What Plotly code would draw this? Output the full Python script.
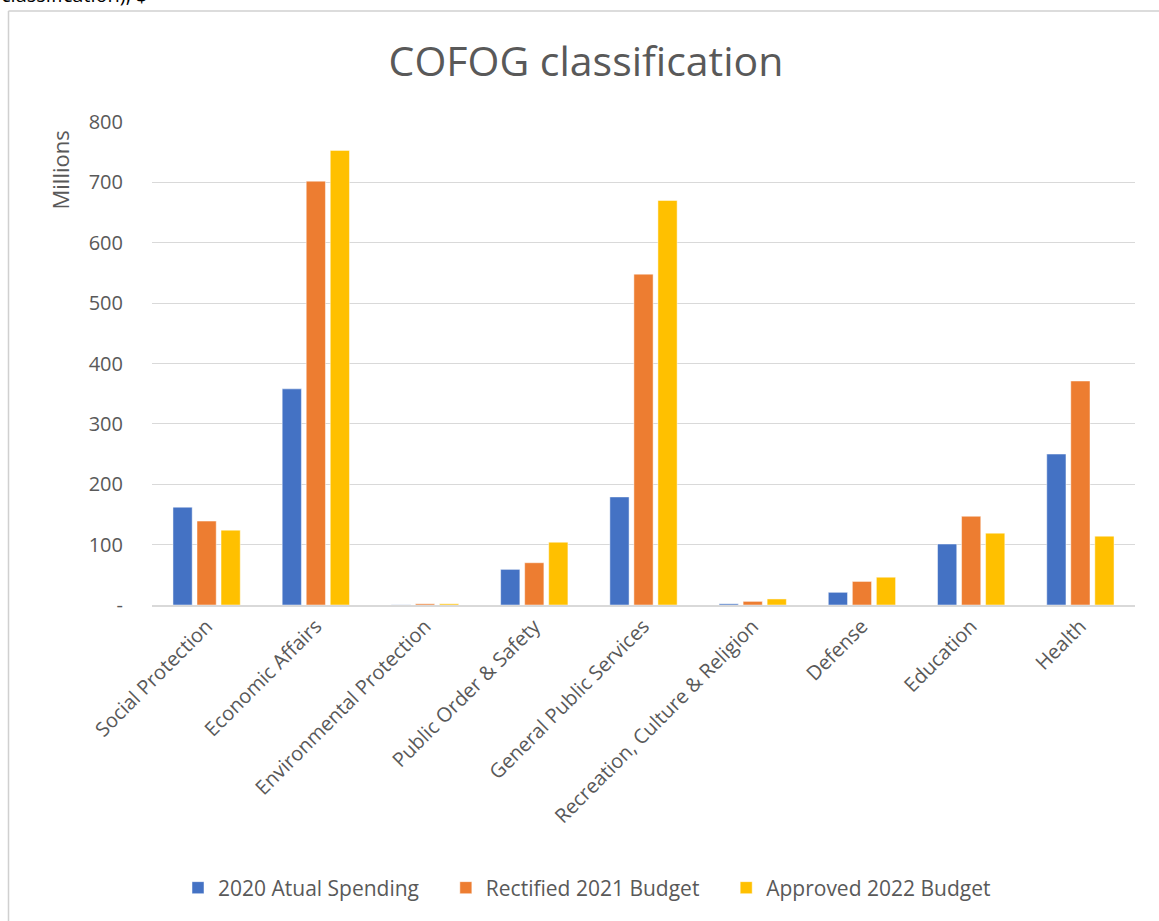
import plotly.graph_objects as go

categories = ["Social Protection", "Economic Affairs", "Environmental Protection",
              "Public Order & Safety", "General Public Services",
              "Recreation, Culture & Religion", "Defense", "Education", "Health"]
spending_2020 = [162, 358, 0.3, 59, 179, 2, 21, 101, 250]
budget_2021 = [139, 702, 2, 70, 548, 6, 39, 147, 371]
budget_2022 = [124, 753, 2, 104, 670, 10, 46, 119, 114]
series_names = ["2020 Atual Spending", "Rectified 2021 Budget", "Approved 2022 Budget"]
colors = ["#4472C4", "#ED7D31", "#FFC000"]
ytick_vals = [0, 100, 200, 300, 400, 500, 600, 700, 800]
ytick_text = ["-", "100", "200", "300", "400", "500", "600", "700", "800"]

W, H = 1159, 921
L, T = 152, 122
PW, PH = 983, 483
R = W - L - PW
B = H - T - PH

def px_x(x):
    return (x - L) / PW

def px_y(y):
    return 1 - (y - T) / PH

font_family = "Open Sans, Liberation Sans, sans-serif"
grey = "#595959"
PAD = "\u00a0" * 4

fig = go.Figure()
for name, vals, c in zip(series_names, [spending_2020, budget_2021, budget_2022], colors):
    fig.add_trace(go.Bar(x=categories, y=vals, name=name + PAD,
                         marker=dict(color=c, line=dict(color="rgba(255,255,255,0.6)", width=0.8))))

fig.update_layout(
    width=W, height=H,
    margin=dict(l=L, r=R, t=T, b=B, autoexpand=False),
    paper_bgcolor="white", plot_bgcolor="white",
    barmode="group", bargap=0.34, bargroupgap=0.2,
    font=dict(family=font_family, color=grey, size=18),
    title=dict(text="COFOG classification", xref="container", x=586 / W, xanchor="center",
               yref="container", y=1 - 62 / H, yanchor="middle",
               font=dict(size=41, color=grey, family=font_family)),
    showlegend=True,
    legend=dict(orientation="h", x=px_x(178), xanchor="left", y=px_y(888), yanchor="middle",
                font=dict(size=21, color=grey), traceorder="normal"),
    xaxis=dict(tickangle=-45, showgrid=False, showline=True, linecolor="#d9d9d9", linewidth=1.5,
               tickfont=dict(size=20, color=grey), ticks=""),
    yaxis=dict(range=[0, 800], tickvals=ytick_vals, ticktext=ytick_text,
               gridcolor="#d9d9d9", gridwidth=1.2, zeroline=False, showline=False,
               tickfont=dict(size=20, color=grey), ticklabelstandoff=28),
)

# y axis title, top-aligned like the reference
fig.add_annotation(text="Millions", xref="paper", yref="paper",
                   x=px_x(60), xanchor="center", y=px_y(129), yanchor="top",
                   textangle=-90, showarrow=False, font=dict(size=22, color=grey))

# frame (top and left edges of the chart box)
fig.add_shape(type="line", xref="paper", yref="paper",
              x0=px_x(8.5), x1=px_x(1200), y0=px_y(11), y1=px_y(11),
              line=dict(color="#d0d0d0", width=1.5))
fig.add_shape(type="line", xref="paper", yref="paper",
              x0=px_x(8.5), x1=px_x(8.5), y0=px_y(11), y1=px_y(960),
              line=dict(color="#d0d0d0", width=1.5))

# clipped caption at the very top
fig.add_annotation(text="classification), $", xref="paper", yref="paper",
                   x=px_x(-1), xanchor="left", y=px_y(-6), yanchor="middle",
                   showarrow=False, font=dict(size=20, color="black", family=font_family))

fig.write_html("out.html", config={"displayModeBar": False},
               post_script="document.body.style.margin='0px';")
